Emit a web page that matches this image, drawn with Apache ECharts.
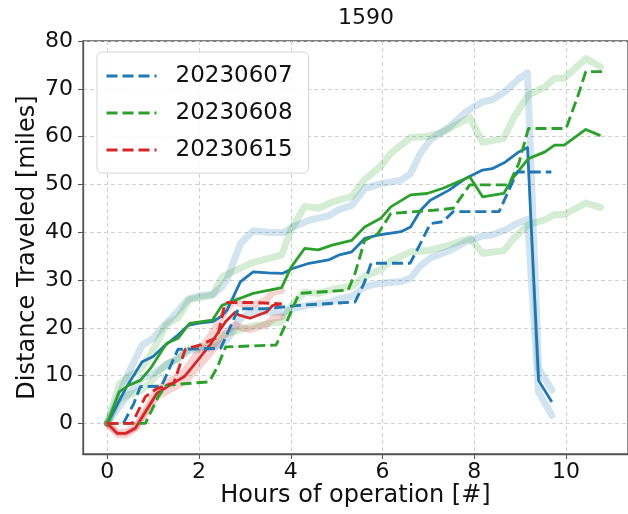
<!DOCTYPE html>
<html><head><meta charset="utf-8">
<script src="https://cdn.jsdelivr.net/npm/echarts@6/dist/echarts.min.js"></script>
<style>html,body{margin:0;padding:0;background:#fff}#c{width:628px;height:514px}</style>
</head><body><div id="c"></div>
<script>
// ---- data ----
const xTicks = [0, 2, 4, 6, 8, 10];
const yTicks = [0, 10, 20, 30, 40, 50, 60, 70, 80];
const legendNames = ['20230607', '20230608', '20230615'];

// 20230607 (blue)
const blueDashX = [0,0.35,0.58,0.72,1.18,1.54,2.47,2.86,3.47,4.18,5.4,5.61,5.75,6.6,6.83,7.04,7.32,7.54,8.54,8.82,8.93,9.18,9.4,9.68];
const blueDashY = [0,0,4.2,7.7,7.8,15.5,15.7,24,24,24.7,25.4,29.6,33.5,33.5,37.7,41.8,42.2,44.3,44.3,50.2,52.6,52.6,52.6,52.6];
const blueX = [0,0.43,0.76,1.0,1.22,1.54,1.76,2.0,2.3,2.5,2.61,2.9,3.18,3.5,3.83,4.04,4.4,4.82,5.04,5.33,5.61,5.9,6.4,6.61,6.83,7.04,7.45,7.82,8.18,8.39,8.68,8.97,9.16,9.4,9.69];
const blueY = [0,7.8,12.9,14,16,18.5,20.5,21,21.3,22.5,23.7,29.6,31.7,31.5,31.4,32.4,33.5,34.2,35.2,35.9,38.7,39.4,40.1,41.1,44.6,46.7,48.8,51.3,53,53.3,54.7,56.8,57.7,9,4.5];
const blueHi = [0,9.9,16.4,17.8,20.3,23.5,26,26.7,27,28.6,30.1,37.6,40.3,40,39.9,41.1,42.5,43.4,44.7,45.6,49.1,50,50.9,52.2,56.6,59.3,62,65.2,67.3,67.7,69.5,72.1,73.3,11.5,7];
const blueLo = [0,5.8,9.5,10.4,11.8,13.7,15.2,15.5,15.8,16.7,17.5,21.9,23.5,23.3,23.2,24,24.8,25.3,26,26.6,28.6,29.2,29.7,30.4,33,34.6,36.1,38,39.2,39.4,40.5,42,42.7,6.5,1.7];

// 20230608 (green)
const greenDashX = [0,0.83,1.11,1.29,2.22,2.4,2.58,3.68,3.9,4.18,5.25,5.4,5.61,5.9,6.18,7.11,7.54,7.9,8.75,8.97,9.18,10.0,10.25,10.43,10.82];
const greenDashY = [0,0,5.6,8,8.7,11.8,16,16.4,21,27.2,27.9,31.4,38.3,39.7,43.9,44.6,45,49.9,49.9,54.4,61.7,61.7,68.3,73.6,73.6];
const greenX = [0,0.26,0.47,0.72,0.94,1.29,1.54,1.79,2.29,2.5,2.68,3.18,3.8,4.0,4.3,4.6,4.9,5.33,5.61,5.96,6.18,6.61,6.97,7.32,7.9,8.18,8.64,8.86,9.18,9.54,9.75,9.96,10.43,10.75];
const greenY = [0,6.6,8,9,11.5,16.7,17.8,20.9,21.6,24.7,25.4,27.2,28.4,32.6,36.6,36.3,37.3,38.3,41.1,42.9,45.3,47.8,48.1,49.2,51.6,47.4,48.1,51.6,55.4,56.8,58.2,58.2,61.5,60.2];
const greenHi = [0,8.2,9.9,11.2,14.3,20.7,22.1,25.9,26.8,30.6,31.5,33.7,35.2,40.4,45.4,45,46.3,47.5,51,53.8,56.5,59.8,60,61,64,58.8,59.6,64,68.7,70.4,72.2,72.2,76.3,74.6];
const greenLo = [0,5,6,6.8,8.6,12.5,13.4,15.7,16.2,18.5,19,20.4,21.3,24.5,27.5,27.2,28,28.7,30.8,32.2,34,35.9,36.1,36.9,38.7,35.6,36.1,38.7,41.6,42.6,43.7,43.7,46.1,45.2];

// 20230615 (red)
const redDashX = [0,0.54,0.83,1.08,1.45,1.7,2.05,2.4,2.55,2.62,3.2,3.8];
const redDashY = [0,0,5.6,7.3,8.5,15.5,16.5,18,24.5,25.3,25.3,25];
const redX = [0,0.22,0.4,0.61,0.9,1.08,1.33,1.68,1.97,2.26,2.4,2.58,2.79,2.86,3.11,3.47,3.61,3.8];
const redY = [0,-2.1,-2.1,-1,3.5,6.3,7.8,9.8,13.2,16.7,18.8,21.3,23.3,22.7,22,23.3,24.7,25];
const redHi = [0,-2.3,-2.4,-1.1,3.9,7,8.7,10.9,14.7,18.5,20.9,23.6,25.9,25.2,24.4,25.9,27.4,27.8];
const redLo = [0,-1.9,-1.9,-0.9,3.1,5.6,6.9,8.7,11.7,14.9,16.7,19,20.7,20.2,19.6,20.7,22,22.3];

// ---- chart ----
const C = {blue:'#1f77b4', green:'#2ca02c', red:'#d62728'};
const pairs = (xs, ys) => xs.map((x, i) => [x, ys[i]]);
const FONT = 'DejaVu Sans';

function light(name, color, xs, ys) {
  return {name, type:'line', data:pairs(xs, ys), symbol:'none', z:1, silent:true,
    lineStyle:{color, width:7, opacity:0.2, cap:'round', join:'round'}};
}
function solid(name, color, xs, ys) {
  return {name, type:'line', data:pairs(xs, ys), symbol:'none', z:3, silent:true,
    lineStyle:{color, width:2.8, join:'round'}};
}
function dashed(name, color, xs, ys) {
  return {name, type:'line', data:pairs(xs, ys), symbol:'none', z:4, silent:true,
    itemStyle:{color}, lineStyle:{color, width:2.9, type:[11, 5]}};
}

const series = [
  light('b_hi', C.blue, blueX, blueHi), light('b_lo', C.blue, blueX, blueLo),
  light('g_hi', C.green, greenX, greenHi), light('g_lo', C.green, greenX, greenLo),
  light('r_hi', C.red, redX, redHi), light('r_lo', C.red, redX, redLo),
  solid('b', C.blue, blueX, blueY), solid('g', C.green, greenX, greenY), solid('r', C.red, redX, redY),
  dashed(legendNames[0], C.blue, blueDashX, blueDashY),
  dashed(legendNames[1], C.green, greenDashX, greenDashY),
  dashed(legendNames[2], C.red, redDashX, redDashY)
];

const chart = echarts.init(document.getElementById('c'), null, {renderer:'canvas'});
chart.setOption({
  animation:false,
  backgroundColor:'#fff',
  textStyle:{fontFamily:FONT},
  title:{text:'1590', left:361, top:2, textAlign:'center',
    textStyle:{fontFamily:FONT, fontSize:22, fontWeight:'normal', color:'#111'}},
  grid:{left:83, top:41, width:555, height:413, show:true, borderColor:'#555', borderWidth:1.3, backgroundColor:'transparent'},
  legend:{data:legendNames, orient:'vertical', left:97, top:52, padding:[12,16,11,8],
    itemWidth:50, itemHeight:14, itemGap:13,
    itemStyle:{opacity:0},
    lineStyle:{width:3},
    backgroundColor:'rgba(255,255,255,0.85)', borderColor:'#d5d5d5', borderWidth:1, borderRadius:5,
    textStyle:{fontFamily:FONT, fontSize:23, lineHeight:24, color:'#111', padding:[0,0,0,14]}},
  xAxis:{type:'value', min:-0.53, max:11.35,
    name:'Hours of operation [#]', nameLocation:'middle', nameGap:30, nameMoveOverlap:false,
    nameTextStyle:{fontFamily:FONT, fontSize:24, color:'#111'},
    axisLine:{show:true, onZero:false, lineStyle:{color:'#555', width:1.3}},
    axisTick:{show:true, length:5, lineStyle:{color:'#555'}, customValues:xTicks},
    axisLabel:{customValues:xTicks, fontFamily:FONT, fontSize:22, color:'#111', margin:7},
    splitLine:{show:true, lineStyle:{color:'#d0d0d0', type:[4,3], width:1}}},
  yAxis:{type:'value', min:-6.4, max:80,
    name:'Distance Traveled [miles]', nameLocation:'middle', nameGap:43, nameMoveOverlap:false,
    nameTextStyle:{fontFamily:FONT, fontSize:24, color:'#111'},
    axisLine:{show:true, onZero:false, lineStyle:{color:'#555', width:1.3}},
    axisTick:{show:true, length:5, lineStyle:{color:'#555'}, customValues:yTicks},
    axisLabel:{customValues:yTicks, fontFamily:FONT, fontSize:22, color:'#111', margin:10},
    splitLine:{show:true, lineStyle:{color:'#d0d0d0', type:[4,3], width:1}}},
  series
});
</script></body></html>
